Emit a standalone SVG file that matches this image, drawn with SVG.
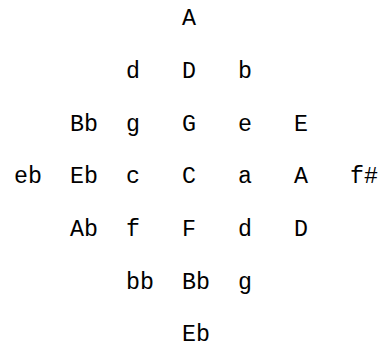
<svg xmlns="http://www.w3.org/2000/svg" width="379" height="347" viewBox="0 0 379 347">
<style>
text{font-family:"Liberation Mono","Courier New",monospace;font-size:23.3px;fill:#000}
</style>
<rect width="379" height="347" fill="#fff"/>
<g id="row0"><text x="182" y="25">A</text></g>
<g id="row1"><text x="126" y="78">d</text><text x="182" y="78">D</text><text x="238" y="78">b</text></g>
<g id="row2"><text x="70" y="130.6">Bb</text><text x="126" y="130.6">g</text><text x="182" y="130.6">G</text><text x="238" y="130.6">e</text><text x="294" y="130.6">E</text></g>
<g id="row3"><text x="14" y="183.4">eb</text><text x="70" y="183.4">Eb</text><text x="126" y="183.4">c</text><text x="182" y="183.4">C</text><text x="238" y="183.4">a</text><text x="294" y="183.4">A</text><text x="350" y="183.4">f#</text></g>
<g id="row4"><text x="70" y="236.2">Ab</text><text x="126" y="236.2">f</text><text x="182" y="236.2">F</text><text x="238" y="236.2">d</text><text x="294" y="236.2">D</text></g>
<g id="row5"><text x="126" y="289">bb</text><text x="182" y="289">Bb</text><text x="238" y="289">g</text></g>
<g id="row6"><text x="182" y="340.5">Eb</text></g>
</svg>
